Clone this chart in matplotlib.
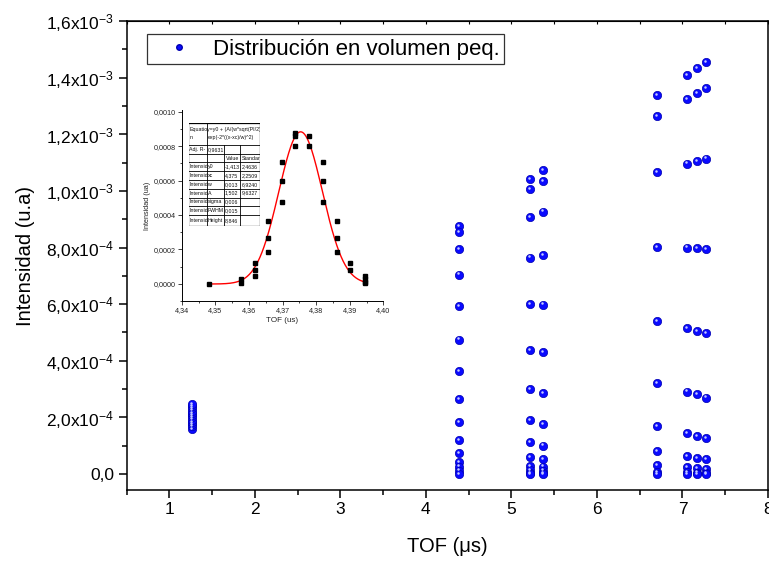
import numpy as np
import matplotlib
matplotlib.use("Agg")
import matplotlib.pyplot as plt
from matplotlib.lines import Line2D
from matplotlib.ticker import MultipleLocator, FixedLocator
from matplotlib.transforms import offset_copy

plt.rcParams['font.family'] = ['Liberation Sans', 'DejaVu Sans']
plt.rcParams['mathtext.fontset'] = 'custom'
plt.rcParams['mathtext.rm'] = 'Liberation Sans'
plt.rcParams['mathtext.it'] = 'Liberation Sans'

# main plot: TOF columns and intensities (u.a.)
x_127, col_127 = 1.27, [1.60e-4, 1.68e-4, 1.76e-4, 1.84e-4, 1.92e-4, 2.00e-4,
                        2.08e-4, 2.16e-4, 2.24e-4, 2.32e-4, 2.40e-4, 2.47e-4]
x_438, col_438 = 4.385, [8.75e-4, 8.53e-4, 7.93e-4, 7.04e-4, 5.92e-4, 4.75e-4, 3.63e-4,
                         2.64e-4, 1.82e-4, 1.20e-4, 0.74e-4, 0.43e-4, 0.26e-4, 0.12e-4, 0.0]
x_522, col_522 = 5.22, [10.43e-4, 10.07e-4, 9.08e-4, 7.64e-4, 5.99e-4, 4.39e-4, 3.00e-4,
                        1.90e-4, 1.12e-4, 0.60e-4, 0.28e-4, 0.14e-4, 0.02e-4, 0.0]
x_537, col_537 = 5.37, [10.74e-4, 10.34e-4, 9.27e-4, 7.72e-4, 5.98e-4, 4.30e-4, 2.85e-4,
                        1.77e-4, 1.00e-4, 0.52e-4, 0.26e-4, 0.12e-4, 0.03e-4, 0.0]
x_670, col_670 = 6.70, [13.39e-4, 12.65e-4, 10.67e-4, 8.02e-4, 5.39e-4, 3.22e-4,
                        1.70e-4, 0.81e-4, 0.32e-4, 0.08e-4, 0.0]
x_705, col_705 = 7.05, [14.10e-4, 13.24e-4, 10.96e-4, 8.00e-4, 5.15e-4, 2.91e-4,
                        1.44e-4, 0.62e-4, 0.24e-4, 0.08e-4, 0.0]
x_717, col_717 = 7.17, [14.33e-4, 13.44e-4, 11.05e-4, 7.99e-4, 5.06e-4, 2.81e-4,
                        1.35e-4, 0.56e-4, 0.20e-4, 0.05e-4, 0.0]
x_728, col_728 = 7.28, [14.55e-4, 13.63e-4, 11.14e-4, 7.95e-4, 4.97e-4, 2.70e-4,
                        1.27e-4, 0.52e-4, 0.18e-4, 0.02e-4, 0.0]

y_ticks = [0, 2e-4, 4e-4, 6e-4, 8e-4, 1.0e-3, 1.2e-3, 1.4e-3, 1.6e-3]
y_ticklabels = ['0,0', '2,0x10$^{-4}$', '4,0x10$^{-4}$', '6,0x10$^{-4}$', '8,0x10$^{-4}$',
                '1,0x10$^{-3}$', '1,2x10$^{-3}$', '1,4x10$^{-3}$', '1,6x10$^{-3}$']

# inset: zoom of the 4.38 us peak
inset_x = [4.348, 4.3576, 4.3576, 4.3617, 4.3617, 4.3617, 4.3657, 4.3657, 4.3657,
           4.3698, 4.3698, 4.3698, 4.3738, 4.3738, 4.3738, 4.3779, 4.3779,
           4.382, 4.382, 4.382, 4.3861, 4.3861, 4.3861, 4.3902, 4.3902,
           4.3946, 4.3946, 4.3946, 4.3946]
inset_y = [0.0, 2.6e-5, 4e-6, 1.22e-4, 8.0e-5, 4.5e-5, 3.65e-4, 2.68e-4, 1.84e-4,
           7.07e-4, 5.96e-4, 4.78e-4, 8.76e-4, 8.60e-4, 7.98e-4, 8.56e-4, 7.98e-4,
           7.07e-4, 5.96e-4, 4.78e-4, 3.65e-4, 2.68e-4, 1.84e-4, 1.22e-4, 8.0e-5,
           4.7e-5, 2.6e-5, 8e-6, 2e-6]
fit_y0, fit_xc, fit_w, fit_height = -1.413e-6, 4.3754, 0.0130, 8.846e-4
inset_xticks = [4.34, 4.35, 4.36, 4.37, 4.38, 4.39, 4.40]
inset_xticklabels = ['4,34', '4,35', '4,36', '4,37', '4,38', '4,39', '4,40']
inset_yticks = [0, 0.0002, 0.0004, 0.0006, 0.0008, 0.0010]
inset_yticklabels = ['0,0000', '0,0002', '0,0004', '0,0006', '0,0008', '0,0010']

table_rows = [
    ['Intensid', 'y0', '-1,413', '2,4636'],
    ['Intensid', 'xc', '4,375', '2,2509'],
    ['Intensid', 'w', '0,013', '6,9240'],
    ['Intensid', 'A', '1,502', '9,6327'],
    ['Intensid', 'sigma', '0,006', ''],
    ['Intensid', 'FWHM', '0,015', ''],
    ['Intensid', 'Height', '8,846', ''],
]

W, H = 769, 561
fig = plt.figure(figsize=(W / 100, H / 100), dpi=100)


def fbox(x0, y0, x1, y1):
    # pixel box (top-left origin) -> figure fraction [l, b, w, h]
    return [x0 / W, 1 - y1 / H, (x1 - x0) / W, (y1 - y0) / H]


ax = fig.add_axes(fbox(126.5, 21, 768, 490))
blue = '#0a0aff'
cols = [(x_127, col_127), (x_438, col_438), (x_522, col_522), (x_537, col_537),
        (x_670, col_670), (x_705, col_705), (x_717, col_717), (x_728, col_728)]
hl = offset_copy(ax.transData, fig=fig, x=-1.2, y=1.2, units='dots')
for xc, ys in cols:
    xs = [xc] * len(ys)
    ax.plot(xs, ys, 'o', ms=6.0, mfc=blue, mec='#0000b0', mew=0.5, ls='none', zorder=3)
    ax.plot(xs, ys, 'o', ms=1.8, mfc='#c4caff', mec='none', ls='none',
            transform=hl, zorder=4)

ax.set_xlim(0.5, 8)
ax.set_ylim(-5.65e-5, 1.6e-3)
ax.xaxis.set_major_locator(MultipleLocator(1))
ax.xaxis.set_minor_locator(MultipleLocator(0.5))
ax.yaxis.set_major_locator(FixedLocator(y_ticks))
ax.yaxis.set_minor_locator(MultipleLocator(1e-4))
ax.set_yticklabels(y_ticklabels)
ax.tick_params(which='both', direction='out', width=1.1, labelsize=12.5, pad=3)
ax.tick_params(which='major', length=6)
ax.tick_params(which='minor', length=3.5)
for s in ax.spines.values():
    s.set_linewidth(1.1)
ax.set_xlabel('TOF (\u03bcs)', fontsize=14.5, labelpad=14)
ax.set_ylabel('Intensidad (u.a)', fontsize=14.5, labelpad=8)

# small inward ticks on the top frame
top = ax.secondary_xaxis('top')
top.xaxis.set_major_locator(MultipleLocator(0.5))
top.tick_params(direction='in', length=2, width=0.8, labeltop=False)

handle = Line2D([], [], marker='o', ls='none', ms=4, mfc=blue, mec='#0000b0')
leg = ax.legend([handle], ['Distribución en volumen peq.'], loc='upper left',
                bbox_to_anchor=(0.032, 0.972), fontsize=16, frameon=True,
                fancybox=False, borderaxespad=0, borderpad=0.2,
                handlelength=2.5, handletextpad=0.25)
leg.get_frame().set_edgecolor('black')
leg.get_frame().set_linewidth(0.9)

# inset plot
axi = fig.add_axes(fbox(181.7, 110, 383.3, 301))
axi.plot(inset_x, inset_y, 's', ms=3.0, color='black', ls='none', zorder=3)
xf = np.linspace(min(inset_x), max(inset_x), 300)
yf = fit_y0 + fit_height * np.exp(-2 * ((xf - fit_xc) / fit_w) ** 2)
axi.plot(xf, yf, color='red', lw=1.0, zorder=2)
axi.spines['top'].set_visible(False)
axi.spines['right'].set_visible(False)
for s in axi.spines.values():
    s.set_linewidth(0.7)
axi.set_xticks(inset_xticks)
axi.set_xticklabels(inset_xticklabels)
axi.set_yticks(inset_yticks)
axi.set_yticklabels(inset_yticklabels)
axi.xaxis.set_minor_locator(MultipleLocator(0.005))
axi.yaxis.set_minor_locator(MultipleLocator(0.0001))
axi.set_xlim(4.34, 4.40)
axi.set_ylim(-1.0e-4, 1.01e-3)
axi.tick_params(which='both', direction='out', width=0.6, labelsize=5.2,
                pad=1.5, colors='#222222')
axi.tick_params(which='major', length=3)
axi.tick_params(which='minor', length=1.5)
axi.set_xlabel('TOF (us)', fontsize=5.8, labelpad=2, color='#222222')
axi.set_ylabel('Intensidad (ua)', fontsize=5.2, labelpad=2, color='#222222')

# fit result table inside the inset
tab = fig.add_axes(fbox(188.5, 122.7, 259.5, 226))
tab.set_xlim(188.5, 259.5)
tab.set_ylim(226, 122.7)
tab.axis('off')
col_edges = [188.5, 206.7, 224.0, 240.5, 259.5]
row_edges = [122.7, 145, 154, 162.3, 171, 180, 188.7, 197.7, 206, 215.3, 226]
lw_t = 0.6
tab.plot([col_edges[0], col_edges[-1], col_edges[-1], col_edges[0], col_edges[0]],
         [row_edges[0], row_edges[0], row_edges[-1], row_edges[-1], row_edges[0]],
         color='black', lw=0.9)
for r in row_edges[1:-1]:
    tab.plot([col_edges[0], col_edges[-1]], [r, r], color='black', lw=lw_t)
tab.plot([col_edges[1]] * 2, [row_edges[0], row_edges[-1]], color='black', lw=lw_t)
for c in col_edges[2:4]:
    tab.plot([c, c], [row_edges[1], row_edges[-1]], color='black', lw=lw_t)
fs_t = 3.8
tkw = dict(fontsize=fs_t, va='center', ha='left', color='#111111', clip_on=True)
tab.text(col_edges[0] + 0.8, 129, 'Equatio', **tkw)
tab.text(col_edges[0] + 0.8, 137, 'n', **tkw)
tab.text(col_edges[1] + 0.8, 129, 'y=y0 + (A/(w*sqrt(PI/2)))*', **tkw)
tab.text(col_edges[1] + 0.8, 137, 'exp(-2*((x-xc)/w)^2)', **tkw)
tab.text(col_edges[0] + 0.8, 149.5, 'Adj. R-', **tkw)
tab.text(col_edges[1] + 1.5, 149.5, '0,9631', **tkw)
tab.text(col_edges[2] + 1.5, 158.2, 'Value', **tkw)
tab.text(col_edges[3] + 0.8, 158.2, 'Standar', **tkw)
for i, row in enumerate(table_rows):
    yc = (row_edges[i + 3] + row_edges[i + 4]) / 2
    for j, txt in enumerate(row):
        tab.text(col_edges[j] + 0.8, yc, txt, **tkw)

fig.savefig('out.png', dpi=100)
